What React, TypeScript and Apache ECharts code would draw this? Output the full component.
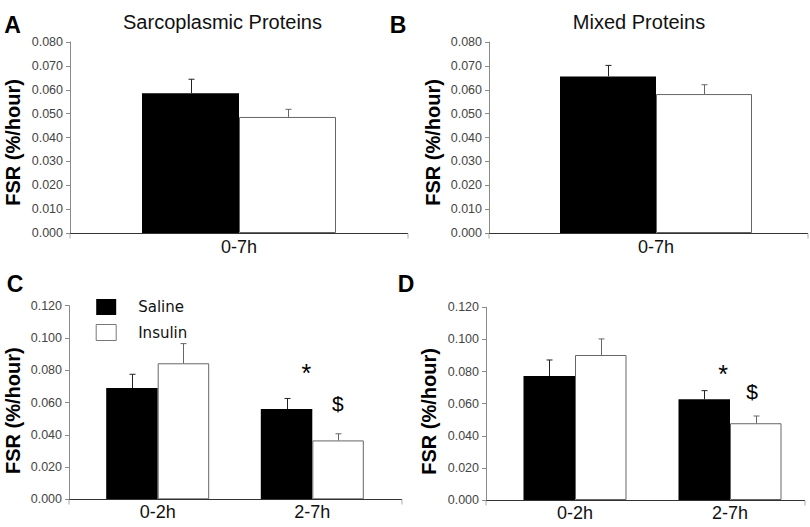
import React, { useEffect, useRef } from "react";
import * as echarts from "echarts";

// ---- data ----
const catsAB = ["0-7h"];
const catsCD = ["0-2h", "2-7h"];

const salineA = [0.0585];
const salineAErr = [0.0644];
const insulinA = [0.0486];
const insulinAErr = [0.0518];

const salineB = [0.0656];
const salineBErr = [0.0702];
const insulinB = [0.0582];
const insulinBErr = [0.0621];

const salineC = [0.069, 0.0559];
const salineCErr = [0.0775, 0.0625];
const insulinC = [0.0843, 0.0365];
const insulinCErr = [0.0965, 0.0406];

const salineD = [0.0772, 0.0627];
const salineDErr = [0.0872, 0.0681];
const insulinD = [0.0903, 0.0478];
const insulinDErr = [0.1003, 0.0523];

// annotations: [text, categoryIndex, value]
const annotC: [string, number, number][] = [
  ["*", 1, 0.0785],
  ["$", 1, 0.0596],
];
const annotD: [string, number, number][] = [
  ["*", 1, 0.0784],
  ["$", 1, 0.0674],
];

const titles = ["Sarcoplasmic Proteins", "Mixed Proteins"];
const letters = ["A", "B", "C", "D"];
const yName = "FSR (%/hour)";

const FONT = "'Liberation Sans', Arial, Helvetica, sans-serif";

type Panel = {
  cats: string[];
  sal: number[];
  salErr: number[];
  ins: number[];
  insErr: number[];
  ann: [string, number, number][];
  annDx: number[];
  grid: { left: number; top: number; width: number; height: number };
  yOffset: number;
  max: number;
  interval: number;
  bw: number;
  axisL: number;
  axisR: number;
  labelMargin: number;
};

const panels: Panel[] = [
  {
    cats: catsAB, sal: salineA, salErr: salineAErr, ins: insulinA, insErr: insulinAErr,
    ann: [], annDx: [],
    grid: { left: 70, top: 42, width: 338, height: 191 },
    yOffset: 0, max: 0.08, interval: 0.01, bw: 97, axisL: 70, axisR: 408, labelMargin: 5,
  },
  {
    cats: catsAB, sal: salineB, salErr: salineBErr, ins: insulinB, insErr: insulinBErr,
    ann: [], annDx: [],
    grid: { left: 504, top: 42, width: 304, height: 191 },
    yOffset: 15, max: 0.08, interval: 0.01, bw: 96, axisL: 489, axisR: 808, labelMargin: 5,
  },
  {
    cats: catsCD, sal: salineC, salErr: salineCErr, ins: insulinC, insErr: insulinCErr,
    ann: annotC, annDx: [-6, 25.5],
    grid: { left: 80.4, top: 305.7, width: 309.2, height: 193.6 },
    yOffset: 11.4, max: 0.12, interval: 0.02, bw: 51.5, axisL: 69, axisR: 402, labelMargin: 4,
  },
  {
    cats: catsCD, sal: salineD, salErr: salineDErr, ins: insulinD, insErr: insulinDErr,
    ann: annotD, annDx: [-7, 22],
    grid: { left: 497.5, top: 307.3, width: 310, height: 192.7 },
    yOffset: 11.5, max: 0.12, interval: 0.02, bw: 51.5, axisL: 486, axisR: 805, labelMargin: 4,
  },
];

function errSeries(i: number, lows: number[], highs: number[], dx: number, color: string) {
  return {
    type: "custom",
    xAxisIndex: i,
    yAxisIndex: i,
    z: 5,
    silent: true,
    itemStyle: { color },
    data: lows.map((v, k) => [k, v, highs[k]]),
    renderItem: (params: any, api: any) => {
      const top = api.coord([api.value(0), api.value(2)]);
      const bot = api.coord([api.value(0), api.value(1)]);
      const x = Math.round(top[0] + dx) + 0.5;
      return {
        type: "group",
        children: [
          { type: "line", shape: { x1: x, y1: bot[1], x2: x, y2: top[1] }, style: { stroke: color, lineWidth: 1 } },
          { type: "line", shape: { x1: x - 3, y1: top[1], x2: x + 3, y2: top[1] }, style: { stroke: color, lineWidth: 1 } },
        ],
      };
    },
  };
}

function annSeries(i: number, ann: [string, number, number][], dxs: number[]) {
  return {
    type: "custom",
    xAxisIndex: i,
    yAxisIndex: i,
    z: 6,
    silent: true,
    itemStyle: { color: "#000" },
    data: ann.map((a, k) => [a[1], a[2], k]),
    renderItem: (params: any, api: any) => {
      const k = api.value(2);
      const p = api.coord([api.value(0), api.value(1)]);
      const t = ann[k][0];
      return {
        type: "text",
        x: p[0] + dxs[k],
        y: p[1],
        style: {
          text: t,
          fontSize: t === "*" ? 25 : 21,
          fontFamily: FONT,
          fill: "#000",
          align: "center",
          verticalAlign: "middle",
        },
      };
    },
  };
}

export default function App() {
  const ref = useRef<HTMLDivElement>(null);
  useEffect(() => {
    document.body.style.margin = "0";
    if (!ref.current) return;
    const chart = echarts.init(ref.current, undefined, { renderer: "svg" });

    const grid = panels.map((p) => ({ ...p.grid, containLabel: false }));
    const xAxis = panels.map((p, i) => ({
      type: "category",
      gridIndex: i,
      data: p.cats,
      axisLine: { show: false },
      axisTick: { show: false },
      axisLabel: { fontSize: 18, color: "#111", fontFamily: FONT, margin: p.labelMargin },
    }));
    const yAxis = panels.map((p, i) => ({
      type: "value",
      gridIndex: i,
      min: 0,
      max: p.max,
      interval: p.interval,
      offset: p.yOffset,
      splitLine: { show: false },
      axisLine: { show: true, lineStyle: { color: "#8a8a8a", width: 1 } },
      axisTick: { show: true, length: 4, lineStyle: { color: "#8a8a8a" } },
      axisLabel: {
        fontSize: 12.5,
        color: "#444",
        fontFamily: FONT,
        margin: 7,
        formatter: (v: number) => v.toFixed(3),
      },
    }));

    const series: any[] = [];
    panels.forEach((p, i) => {
      series.push({
        name: "Saline",
        type: "bar",
        xAxisIndex: i,
        yAxisIndex: i,
        barWidth: p.bw,
        barGap: "0%",
        data: p.sal,
        itemStyle: { color: "#000" },
        z: 2,
      });
      series.push({
        name: "Insulin",
        type: "bar",
        xAxisIndex: i,
        yAxisIndex: i,
        barWidth: p.bw,
        barGap: "0%",
        data: p.ins,
        itemStyle: { color: "#fff", borderColor: "#666", borderWidth: 1 },
        z: 2,
      });
      series.push(errSeries(i, p.sal, p.salErr, -p.bw / 2, "#222"));
      series.push(errSeries(i, p.ins, p.insErr, p.bw / 2, "#666"));
      if (p.ann.length) series.push(annSeries(i, p.ann, p.annDx));
    });

    const graphic: any[] = [];
    // x-axis lines with end ticks
    panels.forEach((p) => {
      const y = Math.round(p.grid.top + p.grid.height) + 0.5;
      graphic.push({ type: "line", shape: { x1: p.axisL, y1: y, x2: p.axisR, y2: y }, style: { stroke: "#333", lineWidth: 1 }, z: 10 });
      graphic.push({ type: "line", shape: { x1: p.axisR, y1: y, x2: p.axisR, y2: y + 5 }, style: { stroke: "#aaa", lineWidth: 1 }, z: 10 });
      graphic.push({ type: "line", shape: { x1: p.axisL, y1: y, x2: p.axisL, y2: y + 5 }, style: { stroke: "#aaa", lineWidth: 1 }, z: 10 });
    });
    // titles
    const titlePos = [
      [222.5, 22],
      [639, 22],
    ];
    titles.forEach((t, k) => {
      graphic.push({
        type: "text",
        x: titlePos[k][0],
        y: titlePos[k][1],
        style: { text: t, fontSize: 20, fontFamily: FONT, fill: "#111", align: "center", verticalAlign: "middle" },
      });
    });
    // panel letters
    const letterPos = [
      [12.5, 25],
      [398, 25],
      [15, 283.5],
      [406, 283.5],
    ];
    letters.forEach((t, k) => {
      graphic.push({
        type: "text",
        x: letterPos[k][0],
        y: letterPos[k][1],
        style: { text: t, fontSize: 23, fontWeight: "bold", fontFamily: FONT, fill: "#000", align: "center", verticalAlign: "middle" },
      });
    });
    // y-axis names
    const namePos = [
      [12.5, 142.5],
      [432.5, 142.5],
      [12.5, 410.7],
      [429, 411.5],
    ];
    namePos.forEach((np) => {
      graphic.push({
        type: "text",
        x: np[0],
        y: np[1],
        rotation: Math.PI / 2,
        style: { text: yName, fontSize: 20, fontWeight: "bold", fontFamily: FONT, fill: "#000", align: "center", verticalAlign: "middle" },
      });
    });

    chart.setOption({
      animation: false,
      backgroundColor: "#fff",
      grid,
      xAxis,
      yAxis,
      series,
      graphic,
      legend: {
        data: [
          { name: "Saline", icon: "rect", itemStyle: { color: "#000", borderWidth: 0 } },
          { name: "Insulin", icon: "rect", itemStyle: { color: "#fff", borderColor: "#777", borderWidth: 1 } },
        ],
        orient: "vertical",
        left: 90.7,
        top: 294,
        itemWidth: 20,
        itemHeight: 16,
        itemGap: 9,
        selectedMode: false,
        textStyle: { fontFamily: "'DejaVu Sans', Verdana, sans-serif", fontSize: 15, color: "#111", padding: [0, 0, 0, 17] },
      },
    });
    return () => chart.dispose();
  }, []);
  return <div ref={ref} style={{ width: 810, height: 527 }} />;
}
